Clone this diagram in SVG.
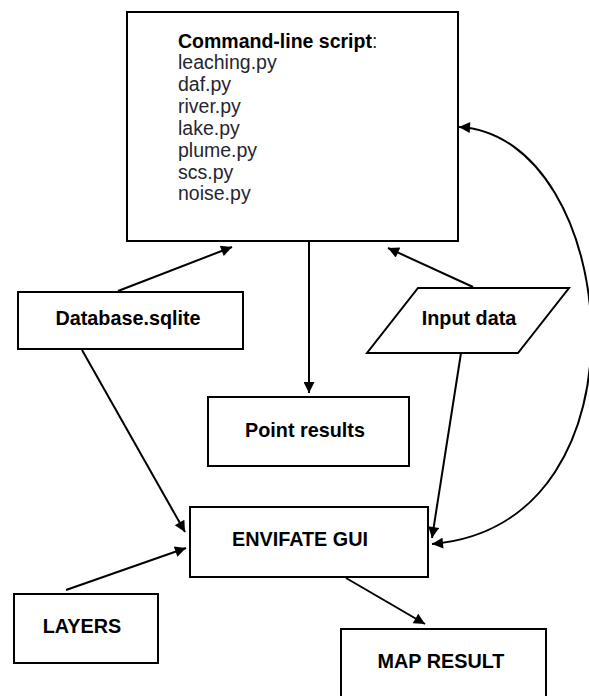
<svg xmlns="http://www.w3.org/2000/svg" width="589" height="696" viewBox="0 0 589 696">
<style>
.box{fill:#fff;stroke:#000;stroke-width:2}
.lbl{font-family:"Liberation Sans",Arial,sans-serif;font-weight:bold;font-size:19.8px;fill:#000;text-anchor:middle}
.lst{font-family:"Liberation Sans",Arial,sans-serif;font-size:19.5px;fill:#262630}
.con{fill:none;stroke:#000;stroke-width:2}
</style>
<defs>
<marker id="arr" viewBox="0 0 10 10" refX="10" refY="5" markerWidth="15" markerHeight="11" markerUnits="userSpaceOnUse" orient="auto-start-reverse">
<path d="M0,0 L10,5 L0,10 z" fill="#000"/>
</marker>
</defs>
<rect width="589" height="696" fill="#fff"/>
<g id="connectors">
<path class="con" d="M118,291 L232,247" marker-end="url(#arr)"/>
<path class="con" d="M473,287 L388,248" marker-end="url(#arr)"/>
<path class="con" d="M309,242 L309,393" marker-end="url(#arr)"/>
<path class="con" d="M82,350 L185,532" marker-end="url(#arr)"/>
<path class="con" d="M461,353 L432,538" marker-end="url(#arr)"/>
<path class="con" d="M66,590 L186,548" marker-end="url(#arr)"/>
<path class="con" d="M346,578 L425,624" marker-end="url(#arr)"/>
<path class="con" d="M459,127 C620,135 660,525 432,544" marker-start="url(#arr)" marker-end="url(#arr)"/>
</g>
<g id="command">
<rect class="box" x="127" y="12" width="331" height="229"/>
<text class="lst" x="178" y="48"><tspan font-weight="bold" fill="#000">Command-line script</tspan>:</text>
<text class="lst" x="178" y="69">leaching.py</text>
<text class="lst" x="178" y="91">daf.py</text>
<text class="lst" x="178" y="113">river.py</text>
<text class="lst" x="178" y="135">lake.py</text>
<text class="lst" x="178" y="157">plume.py</text>
<text class="lst" x="178" y="179">scs.py</text>
<text class="lst" x="178" y="200">noise.py</text>
</g>
<g id="database">
<rect class="box" x="18" y="292" width="225" height="57"/>
<text class="lbl" x="128" y="325">Database.sqlite</text>
</g>
<g id="inputdata">
<polygon class="box" points="418,288 569,288 518,353 367,353"/>
<text class="lbl" x="469" y="325">Input data</text>
</g>
<g id="pointresults">
<rect class="box" x="208" y="397" width="201" height="69"/>
<text class="lbl" x="305" y="437">Point results</text>
</g>
<g id="gui">
<rect class="box" x="190" y="507" width="238" height="70"/>
<text class="lbl" x="300" y="546">ENVIFATE GUI</text>
</g>
<g id="layers">
<rect class="box" x="14" y="594" width="144" height="69"/>
<text class="lbl" x="82" y="633">LAYERS</text>
</g>
<g id="mapresult">
<rect class="box" x="341" y="629" width="205" height="80"/>
<text class="lbl" x="441" y="668">MAP RESULT</text>
</g>
</svg>
